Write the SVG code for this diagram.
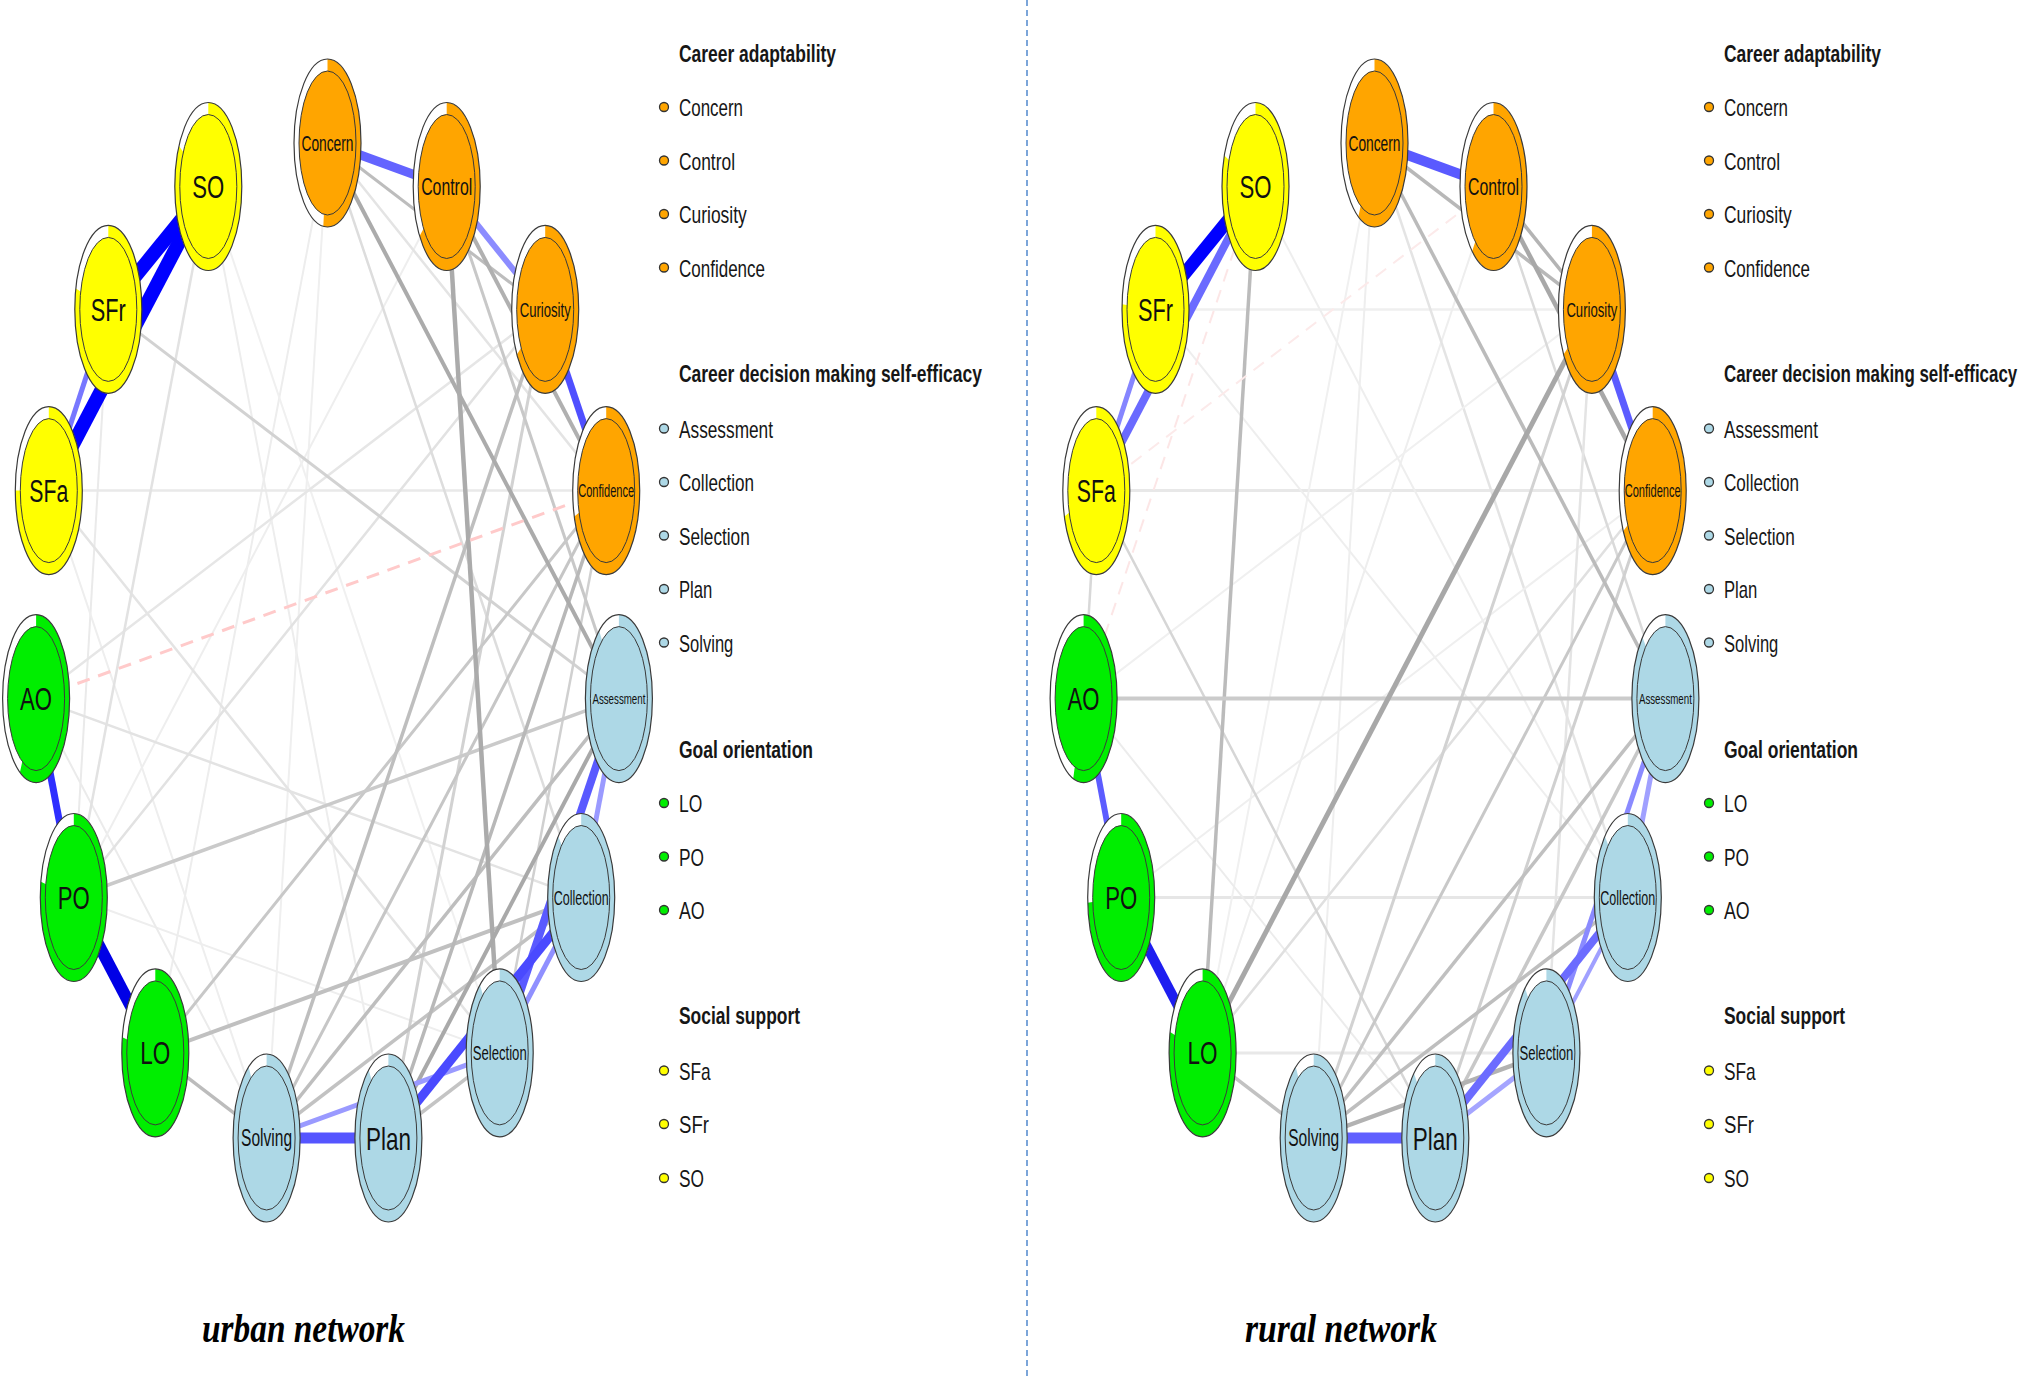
<svg xmlns="http://www.w3.org/2000/svg" width="2027" height="1380" viewBox="0 0 2027 1380">
<style>
.ring{fill:#fff;stroke:none}
.rim{fill:none;stroke:#3a3a3a;stroke-width:1.2}
.core{stroke:#3a3a3a;stroke-width:1}
.pie{stroke:none}
.yel .pie,.yel .core{fill:#FFFF00}
.org .pie,.org .core{fill:#FFA500}
.grn .pie,.grn .core{fill:#00EE00}
.blu .pie,.blu .core{fill:#ADD8E6}
.lbl{font-family:"Liberation Sans",Arial,sans-serif;text-anchor:middle;fill:#111}
.edges line{fill:none}
.dash{stroke-dasharray:13 9}
.leg{font-family:"Liberation Sans",Arial,sans-serif;font-size:24px;fill:#161616}
.legh{font-weight:bold}
.bo{fill:#FFA500;stroke:#333;stroke-width:1.3}
.bb{fill:#ADD8E6;stroke:#333;stroke-width:1.3}
.bg{fill:#00EE00;stroke:#333;stroke-width:1.3}
.by{fill:#FFFF00;stroke:#333;stroke-width:1.3}
.title{font-family:"Liberation Serif","Times New Roman",serif;font-style:italic;font-weight:bold;font-size:40px;fill:#000}
</style>
<rect width="2027" height="1380" fill="#fff"/>
<line x1="1027" y1="0" x2="1027" y2="1380" stroke="#5B8FD0" stroke-width="1.6" stroke-dasharray="6 4"/>

<!-- URBAN EDGES -->
<g id="urban-edges" class="edges">
<line x1="208.3" y1="186.5" x2="388.4" y2="1138" stroke="#EDEDED" stroke-width="2"/>
<line x1="108.3" y1="309.4" x2="73.8" y2="897.5" stroke="#EAEAEA" stroke-width="2"/>
<line x1="73.8" y1="897.5" x2="499.7" y2="1052.9" stroke="#EEEEEE" stroke-width="2"/>
<line x1="155.3" y1="1052.9" x2="327.5" y2="143" stroke="#EDEDED" stroke-width="2"/>
<line x1="327.5" y1="143" x2="266.6" y2="1138" stroke="#EFEFEF" stroke-width="2"/>
<line x1="36.1" y1="698.6" x2="266.6" y2="1138" stroke="#EBEBEB" stroke-width="2"/>
<line x1="48.8" y1="490.6" x2="266.6" y2="1138" stroke="#EEEEEE" stroke-width="2"/>
<line x1="446.7" y1="186.5" x2="73.8" y2="897.5" stroke="#EEEEEE" stroke-width="2"/>
<line x1="208.3" y1="186.5" x2="499.7" y2="1052.9" stroke="#F0F0F0" stroke-width="2"/>
<line x1="48.8" y1="490.6" x2="606.2" y2="490.6" stroke="#E9E9E9" stroke-width="2.5"/>
<line x1="48.8" y1="490.6" x2="499.7" y2="1052.9" stroke="#E4E4E4" stroke-width="2.5"/>
<line x1="545.2" y1="309.4" x2="36.1" y2="698.6" stroke="#E6E6E6" stroke-width="2.5"/>
<line x1="581.2" y1="897.5" x2="36.1" y2="698.6" stroke="#E3E3E3" stroke-width="2.5"/>
<line x1="545.2" y1="309.4" x2="73.8" y2="897.5" stroke="#E2E2E2" stroke-width="2.5"/>
<line x1="208.3" y1="186.5" x2="73.8" y2="897.5" stroke="#E2E2E2" stroke-width="2.5"/>
<line x1="327.5" y1="143" x2="581.2" y2="897.5" stroke="#DDDDDD" stroke-width="2.5"/>
<line x1="327.5" y1="143" x2="606.2" y2="490.6" stroke="#E4E4E4" stroke-width="2.5"/>
<line x1="108.3" y1="309.4" x2="618.9" y2="698.6" stroke="#D2D2D2" stroke-width="3"/>
<line x1="606.2" y1="490.6" x2="499.7" y2="1052.9" stroke="#D0D0D0" stroke-width="2.5"/>
<line x1="545.2" y1="309.4" x2="388.4" y2="1138" stroke="#D2D2D2" stroke-width="3"/>
<line x1="446.7" y1="186.5" x2="618.9" y2="698.6" stroke="#C8C8C8" stroke-width="3"/>
<line x1="606.2" y1="490.6" x2="155.3" y2="1052.9" stroke="#C8C8C8" stroke-width="3"/>
<line x1="606.2" y1="490.6" x2="266.6" y2="1138" stroke="#C6C6C6" stroke-width="3"/>
<line x1="618.9" y1="698.6" x2="73.8" y2="897.5" stroke="#CACACA" stroke-width="3.5"/>
<line x1="581.2" y1="897.5" x2="266.6" y2="1138" stroke="#C2C2C2" stroke-width="3.5"/>
<line x1="545.2" y1="309.4" x2="266.6" y2="1138" stroke="#BEBEBE" stroke-width="3.5"/>
<line x1="618.9" y1="698.6" x2="266.6" y2="1138" stroke="#BEBEBE" stroke-width="3.5"/>
<line x1="388.4" y1="1138" x2="499.7" y2="1052.9" stroke="#C4C4C4" stroke-width="3.5"/>
<line x1="155.3" y1="1052.9" x2="266.6" y2="1138" stroke="#BCBCBC" stroke-width="3.5"/>
<line x1="581.2" y1="897.5" x2="155.3" y2="1052.9" stroke="#C0C0C0" stroke-width="4"/>
<line x1="327.5" y1="143" x2="545.2" y2="309.4" stroke="#BDBDBD" stroke-width="3"/>
<line x1="606.2" y1="490.6" x2="388.4" y2="1138" stroke="#B8B8B8" stroke-width="3.5"/>
<line x1="327.5" y1="143" x2="618.9" y2="698.6" stroke="#ABABAB" stroke-width="4"/>
<line x1="446.7" y1="186.5" x2="499.7" y2="1052.9" stroke="#ABABAB" stroke-width="4.5"/>
<line x1="446.7" y1="186.5" x2="606.2" y2="490.6" stroke="#B0B0B0" stroke-width="4"/>
<line x1="618.9" y1="698.6" x2="388.4" y2="1138" stroke="#A9A9A9" stroke-width="4"/>
<line class="dash" x1="36.1" y1="698.6" x2="606.2" y2="490.6" stroke="#FFCACA" stroke-width="3"/>
<line x1="108.3" y1="309.4" x2="48.8" y2="490.6" stroke="#7777FF" stroke-width="5"/>
<line x1="208.3" y1="186.5" x2="108.3" y2="309.4" stroke="#0000FF" stroke-width="14"/>
<line x1="208.3" y1="186.5" x2="48.8" y2="490.6" stroke="#0000FF" stroke-width="14"/>
<line x1="327.5" y1="143" x2="446.7" y2="186.5" stroke="#6464FF" stroke-width="9"/>
<line x1="446.7" y1="186.5" x2="545.2" y2="309.4" stroke="#8C8CFF" stroke-width="6"/>
<line x1="545.2" y1="309.4" x2="606.2" y2="490.6" stroke="#4F4FFF" stroke-width="7"/>
<line x1="36.1" y1="698.6" x2="73.8" y2="897.5" stroke="#2E2EFF" stroke-width="7"/>
<line x1="73.8" y1="897.5" x2="155.3" y2="1052.9" stroke="#0000E6" stroke-width="12"/>
<line x1="266.6" y1="1138" x2="499.7" y2="1052.9" stroke="#9A9AFF" stroke-width="5"/>
<line x1="499.7" y1="1052.9" x2="581.2" y2="897.5" stroke="#9090FF" stroke-width="5"/>
<line x1="618.9" y1="698.6" x2="581.2" y2="897.5" stroke="#9A9AFF" stroke-width="5"/>
<line x1="499.7" y1="1052.9" x2="618.9" y2="698.6" stroke="#5A5AFF" stroke-width="8"/>
<line x1="388.4" y1="1138" x2="581.2" y2="897.5" stroke="#4A4AFF" stroke-width="9"/>
<line x1="266.6" y1="1138" x2="388.4" y2="1138" stroke="#5555FF" stroke-width="11"/>
</g>

<!-- RURAL EDGES -->
<g id="rural-edges" class="edges">
<line x1="1155.5" y1="309.4" x2="1591.9" y2="309.4" stroke="#EFEFEF" stroke-width="2.5"/>
<line x1="1096.3" y1="490.6" x2="1652.7" y2="490.6" stroke="#E8E8E8" stroke-width="3"/>
<line x1="1121.2" y1="897.5" x2="1627.8" y2="897.5" stroke="#E6E6E6" stroke-width="3"/>
<line x1="1202.6" y1="1052.9" x2="1546.4" y2="1052.9" stroke="#E8E8E8" stroke-width="3"/>
<line x1="1096.3" y1="490.6" x2="1083.6" y2="698.6" stroke="#D8D8D8" stroke-width="2.5"/>
<line x1="1374.5" y1="143" x2="1313.7" y2="1138" stroke="#EEEEEE" stroke-width="2"/>
<line x1="1374.5" y1="143" x2="1202.6" y2="1052.9" stroke="#F0F0F0" stroke-width="2"/>
<line x1="1493.5" y1="186.5" x2="1202.6" y2="1052.9" stroke="#EEEEEE" stroke-width="2"/>
<line x1="1374.5" y1="143" x2="1627.8" y2="897.5" stroke="#E4E4E4" stroke-width="2.5"/>
<line x1="1255.5" y1="186.5" x2="1627.8" y2="897.5" stroke="#EEEEEE" stroke-width="2"/>
<line x1="1155.5" y1="309.4" x2="1627.8" y2="897.5" stroke="#EEEEEE" stroke-width="2"/>
<line x1="1083.6" y1="698.6" x2="1435.3" y2="1138" stroke="#ECECEC" stroke-width="2"/>
<line x1="1121.2" y1="897.5" x2="1652.7" y2="490.6" stroke="#EFEFEF" stroke-width="2"/>
<line x1="1083.6" y1="698.6" x2="1591.9" y2="309.4" stroke="#F0F0F0" stroke-width="2"/>
<line x1="1652.7" y1="490.6" x2="1202.6" y2="1052.9" stroke="#E0E0E0" stroke-width="2.5"/>
<line x1="1493.5" y1="186.5" x2="1665.4" y2="698.6" stroke="#DADADA" stroke-width="2.5"/>
<line x1="1591.9" y1="309.4" x2="1546.4" y2="1052.9" stroke="#E4E4E4" stroke-width="2.5"/>
<line x1="1096.3" y1="490.6" x2="1435.3" y2="1138" stroke="#D6D6D6" stroke-width="2.5"/>
<line x1="1652.7" y1="490.6" x2="1435.3" y2="1138" stroke="#D0D0D0" stroke-width="3"/>
<line x1="1652.7" y1="490.6" x2="1313.7" y2="1138" stroke="#C8C8C8" stroke-width="3"/>
<line x1="1591.9" y1="309.4" x2="1313.7" y2="1138" stroke="#D2D2D2" stroke-width="3"/>
<line x1="1665.4" y1="698.6" x2="1435.3" y2="1138" stroke="#C8C8C8" stroke-width="3.5"/>
<line x1="1665.4" y1="698.6" x2="1313.7" y2="1138" stroke="#C0C0C0" stroke-width="3.5"/>
<line x1="1627.8" y1="897.5" x2="1313.7" y2="1138" stroke="#BEBEBE" stroke-width="3.5"/>
<line x1="1202.6" y1="1052.9" x2="1313.7" y2="1138" stroke="#C2C2C2" stroke-width="3.5"/>
<line x1="1374.5" y1="143" x2="1665.4" y2="698.6" stroke="#BBBBBB" stroke-width="3.5"/>
<line x1="1374.5" y1="143" x2="1591.9" y2="309.4" stroke="#B8B8B8" stroke-width="3.5"/>
<line x1="1493.5" y1="186.5" x2="1591.9" y2="309.4" stroke="#B4B4B4" stroke-width="3.5"/>
<line x1="1255.5" y1="186.5" x2="1202.6" y2="1052.9" stroke="#BBBBBB" stroke-width="3.5"/>
<line x1="1083.6" y1="698.6" x2="1665.4" y2="698.6" stroke="#CBCBCB" stroke-width="4"/>
<line x1="1493.5" y1="186.5" x2="1652.7" y2="490.6" stroke="#A8A8A8" stroke-width="4.5"/>
<line x1="1546.4" y1="1052.9" x2="1313.7" y2="1138" stroke="#B2B2B2" stroke-width="4.5"/>
<line x1="1202.6" y1="1052.9" x2="1591.9" y2="309.4" stroke="#A8A8A8" stroke-width="5"/>
<line class="dash" x1="1083.6" y1="698.6" x2="1255.5" y2="186.5" stroke="#FCE6E6" stroke-width="2"/>
<line class="dash" x1="1096.3" y1="490.6" x2="1493.5" y2="186.5" stroke="#FCEAEA" stroke-width="2"/>
<line x1="1155.5" y1="309.4" x2="1096.3" y2="490.6" stroke="#8585FF" stroke-width="5"/>
<line x1="1255.5" y1="186.5" x2="1096.3" y2="490.6" stroke="#6A6AFF" stroke-width="8"/>
<line x1="1255.5" y1="186.5" x2="1155.5" y2="309.4" stroke="#0000FF" stroke-width="13"/>
<line x1="1374.5" y1="143" x2="1493.5" y2="186.5" stroke="#5A5AFF" stroke-width="10"/>
<line x1="1591.9" y1="309.4" x2="1652.7" y2="490.6" stroke="#5C5CFF" stroke-width="7"/>
<line x1="1083.6" y1="698.6" x2="1121.2" y2="897.5" stroke="#5C5CFF" stroke-width="6"/>
<line x1="1121.2" y1="897.5" x2="1202.6" y2="1052.9" stroke="#1E1EF0" stroke-width="10"/>
<line x1="1435.3" y1="1138" x2="1546.4" y2="1052.9" stroke="#A5A5FF" stroke-width="5"/>
<line x1="1546.4" y1="1052.9" x2="1627.8" y2="897.5" stroke="#A0A0FF" stroke-width="4"/>
<line x1="1665.4" y1="698.6" x2="1627.8" y2="897.5" stroke="#A0A0FF" stroke-width="5"/>
<line x1="1546.4" y1="1052.9" x2="1665.4" y2="698.6" stroke="#8A8AFF" stroke-width="5"/>
<line x1="1435.3" y1="1138" x2="1627.8" y2="897.5" stroke="#6C6CFF" stroke-width="8"/>
<line x1="1313.7" y1="1138" x2="1435.3" y2="1138" stroke="#6060FF" stroke-width="11"/>
</g>

<!-- URBAN NODES -->
<g id="u-Concern" class="org" transform="translate(327.5,143)"><ellipse class="ring" rx="33.5" ry="84"/><path class="pie" d="M0,0L0,-84A33.5,84 0 1 1 -4.2,83.34Z"/><ellipse class="core" rx="28.5" ry="72"/><ellipse class="rim" rx="33.5" ry="84"/><text class="lbl" y="7.9" font-size="22" textLength="52" lengthAdjust="spacingAndGlyphs">Concern</text></g>
<g id="u-Control" class="org" transform="translate(446.7,186.5)"><ellipse class="ring" rx="33.5" ry="84"/><path class="pie" d="M0,0L0,-84A33.5,84 0 1 1 -27.1,49.38Z"/><ellipse class="core" rx="28.5" ry="72"/><ellipse class="rim" rx="33.5" ry="84"/><text class="lbl" y="8.6" font-size="24" textLength="51" lengthAdjust="spacingAndGlyphs">Control</text></g>
<g id="u-Curiosity" class="org" transform="translate(545.2,309.4)"><ellipse class="ring" rx="33.5" ry="84"/><path class="pie" d="M0,0L0,-84A33.5,84 0 1 1 -28.28,45Z"/><ellipse class="core" rx="28.5" ry="72"/><ellipse class="rim" rx="33.5" ry="84"/><text class="lbl" y="7.6" font-size="21" textLength="51" lengthAdjust="spacingAndGlyphs">Curiosity</text></g>
<g id="u-Confidence" class="org" transform="translate(606.2,490.6)"><ellipse class="ring" rx="33.5" ry="84"/><path class="pie" d="M0,0L0,-84A33.5,84 0 1 1 -31.86,25.96Z"/><ellipse class="core" rx="28.5" ry="72"/><ellipse class="rim" rx="33.5" ry="84"/><text class="lbl" y="6.8" font-size="19" textLength="56" lengthAdjust="spacingAndGlyphs">Confidence</text></g>
<g id="u-Assessment" class="blu" transform="translate(618.9,698.6)"><ellipse class="ring" rx="33.5" ry="84"/><path class="pie" d="M0,0L0,-84A33.5,84 0 1 1 -19.69,-67.96Z"/><ellipse class="core" rx="28.5" ry="72"/><ellipse class="rim" rx="33.5" ry="84"/><text class="lbl" y="5.4" font-size="15" textLength="53" lengthAdjust="spacingAndGlyphs">Assessment</text></g>
<g id="u-Collection" class="blu" transform="translate(581.2,897.5)"><ellipse class="ring" rx="33.5" ry="84"/><path class="pie" d="M0,0L0,-84A33.5,84 0 1 1 -22.93,-61.24Z"/><ellipse class="core" rx="28.5" ry="72"/><ellipse class="rim" rx="33.5" ry="84"/><text class="lbl" y="7.2" font-size="20" textLength="55" lengthAdjust="spacingAndGlyphs">Collection</text></g>
<g id="u-Selection" class="blu" transform="translate(499.7,1052.9)"><ellipse class="ring" rx="33.5" ry="84"/><path class="pie" d="M0,0L0,-84A33.5,84 0 1 1 -19.69,-67.96Z"/><ellipse class="core" rx="28.5" ry="72"/><ellipse class="rim" rx="33.5" ry="84"/><text class="lbl" y="7.2" font-size="20" textLength="54" lengthAdjust="spacingAndGlyphs">Selection</text></g>
<g id="u-Plan" class="blu" transform="translate(388.4,1138)"><ellipse class="ring" rx="33.5" ry="84"/><path class="pie" d="M0,0L0,-84A33.5,84 0 1 1 -19.69,-67.96Z"/><ellipse class="core" rx="28.5" ry="72"/><ellipse class="rim" rx="33.5" ry="84"/><text class="lbl" y="11.5" font-size="32" textLength="45" lengthAdjust="spacingAndGlyphs">Plan</text></g>
<g id="u-Solving" class="blu" transform="translate(266.6,1138)"><ellipse class="ring" rx="33.5" ry="84"/><path class="pie" d="M0,0L0,-84A33.5,84 0 1 1 -17.95,-70.92Z"/><ellipse class="core" rx="28.5" ry="72"/><ellipse class="rim" rx="33.5" ry="84"/><text class="lbl" y="8.3" font-size="23" textLength="51" lengthAdjust="spacingAndGlyphs">Solving</text></g>
<g id="u-LO" class="grn" transform="translate(155.3,1052.9)"><ellipse class="ring" rx="33.5" ry="84"/><path class="pie" d="M0,0L0,-84A33.5,84 0 1 1 -32.91,-15.74Z"/><ellipse class="core" rx="28.5" ry="72"/><ellipse class="rim" rx="33.5" ry="84"/><text class="lbl" y="11.2" font-size="31" textLength="30" lengthAdjust="spacingAndGlyphs">LO</text></g>
<g id="u-PO" class="grn" transform="translate(73.8,897.5)"><ellipse class="ring" rx="33.5" ry="84"/><path class="pie" d="M0,0L0,-84A33.5,84 0 1 1 -32.91,-15.74Z"/><ellipse class="core" rx="28.5" ry="72"/><ellipse class="rim" rx="33.5" ry="84"/><text class="lbl" y="11.2" font-size="31" textLength="32" lengthAdjust="spacingAndGlyphs">PO</text></g>
<g id="u-AO" class="grn" transform="translate(36.1,698.6)"><ellipse class="ring" rx="33.5" ry="84"/><path class="pie" d="M0,0L0,-84A33.5,84 0 1 1 -16.14,73.61Z"/><ellipse class="core" rx="28.5" ry="72"/><ellipse class="rim" rx="33.5" ry="84"/><text class="lbl" y="11.2" font-size="31" textLength="32" lengthAdjust="spacingAndGlyphs">AO</text></g>
<g id="u-SFa" class="yel" transform="translate(48.8,490.6)"><ellipse class="ring" rx="33.5" ry="84"/><path class="pie" d="M0,0L0,-84A33.5,84 0 1 1 -33.5,0Z"/><ellipse class="core" rx="28.5" ry="72"/><ellipse class="rim" rx="33.5" ry="84"/><text class="lbl" y="11.2" font-size="31" textLength="39" lengthAdjust="spacingAndGlyphs">SFa</text></g>
<g id="u-SFr" class="yel" transform="translate(108.3,309.4)"><ellipse class="ring" rx="33.5" ry="84"/><path class="pie" d="M0,0L0,-84A33.5,84 0 1 1 -32.45,-20.89Z"/><ellipse class="core" rx="28.5" ry="72"/><ellipse class="rim" rx="33.5" ry="84"/><text class="lbl" y="11.2" font-size="31" textLength="35" lengthAdjust="spacingAndGlyphs">SFr</text></g>
<g id="u-SO" class="yel" transform="translate(208.3,186.5)"><ellipse class="ring" rx="33.5" ry="84"/><path class="pie" d="M0,0L0,-84A33.5,84 0 1 1 -29.36,-40.47Z"/><ellipse class="core" rx="28.5" ry="72"/><ellipse class="rim" rx="33.5" ry="84"/><text class="lbl" y="11.2" font-size="31" textLength="32" lengthAdjust="spacingAndGlyphs">SO</text></g>

<!-- RURAL NODES -->
<g id="r-Concern" class="org" transform="translate(1374.5,143)"><ellipse class="ring" rx="33.5" ry="84"/><path class="pie" d="M0,0L0,-84A33.5,84 0 1 1 -16.14,73.61Z"/><ellipse class="core" rx="28.5" ry="72"/><ellipse class="rim" rx="33.5" ry="84"/><text class="lbl" y="7.9" font-size="22" textLength="52" lengthAdjust="spacingAndGlyphs">Concern</text></g>
<g id="r-Control" class="org" transform="translate(1493.5,186.5)"><ellipse class="ring" rx="33.5" ry="84"/><path class="pie" d="M0,0L0,-84A33.5,84 0 1 1 -21.35,64.72Z"/><ellipse class="core" rx="28.5" ry="72"/><ellipse class="rim" rx="33.5" ry="84"/><text class="lbl" y="8.6" font-size="24" textLength="51" lengthAdjust="spacingAndGlyphs">Control</text></g>
<g id="r-Curiosity" class="org" transform="translate(1591.9,309.4)"><ellipse class="ring" rx="33.5" ry="84"/><path class="pie" d="M0,0L0,-84A33.5,84 0 1 1 -28.28,45Z"/><ellipse class="core" rx="28.5" ry="72"/><ellipse class="rim" rx="33.5" ry="84"/><text class="lbl" y="7.6" font-size="21" textLength="51" lengthAdjust="spacingAndGlyphs">Curiosity</text></g>
<g id="r-Confidence" class="org" transform="translate(1652.7,490.6)"><ellipse class="ring" rx="33.5" ry="84"/><path class="pie" d="M0,0L0,-84A33.5,84 0 1 1 -29.36,40.47Z"/><ellipse class="core" rx="28.5" ry="72"/><ellipse class="rim" rx="33.5" ry="84"/><text class="lbl" y="6.8" font-size="19" textLength="56" lengthAdjust="spacingAndGlyphs">Confidence</text></g>
<g id="r-Assessment" class="blu" transform="translate(1665.4,698.6)"><ellipse class="ring" rx="33.5" ry="84"/><path class="pie" d="M0,0L0,-84A33.5,84 0 1 1 -22.93,-61.24Z"/><ellipse class="core" rx="28.5" ry="72"/><ellipse class="rim" rx="33.5" ry="84"/><text class="lbl" y="5.4" font-size="15" textLength="53" lengthAdjust="spacingAndGlyphs">Assessment</text></g>
<g id="r-Collection" class="blu" transform="translate(1627.8,897.5)"><ellipse class="ring" rx="33.5" ry="84"/><path class="pie" d="M0,0L0,-84A33.5,84 0 1 1 -22.93,-61.24Z"/><ellipse class="core" rx="28.5" ry="72"/><ellipse class="rim" rx="33.5" ry="84"/><text class="lbl" y="7.2" font-size="20" textLength="55" lengthAdjust="spacingAndGlyphs">Collection</text></g>
<g id="r-Selection" class="blu" transform="translate(1546.4,1052.9)"><ellipse class="ring" rx="33.5" ry="84"/><path class="pie" d="M0,0L0,-84A33.5,84 0 1 1 -21.35,-64.72Z"/><ellipse class="core" rx="28.5" ry="72"/><ellipse class="rim" rx="33.5" ry="84"/><text class="lbl" y="7.2" font-size="20" textLength="54" lengthAdjust="spacingAndGlyphs">Selection</text></g>
<g id="r-Plan" class="blu" transform="translate(1435.3,1138)"><ellipse class="ring" rx="33.5" ry="84"/><path class="pie" d="M0,0L0,-84A33.5,84 0 1 1 -21.35,-64.72Z"/><ellipse class="core" rx="28.5" ry="72"/><ellipse class="rim" rx="33.5" ry="84"/><text class="lbl" y="11.5" font-size="32" textLength="45" lengthAdjust="spacingAndGlyphs">Plan</text></g>
<g id="r-Solving" class="blu" transform="translate(1313.7,1138)"><ellipse class="ring" rx="33.5" ry="84"/><path class="pie" d="M0,0L0,-84A33.5,84 0 1 1 -17.95,-70.92Z"/><ellipse class="core" rx="28.5" ry="72"/><ellipse class="rim" rx="33.5" ry="84"/><text class="lbl" y="8.3" font-size="23" textLength="51" lengthAdjust="spacingAndGlyphs">Solving</text></g>
<g id="r-LO" class="grn" transform="translate(1202.6,1052.9)"><ellipse class="ring" rx="33.5" ry="84"/><path class="pie" d="M0,0L0,-84A33.5,84 0 1 1 -32.45,-20.89Z"/><ellipse class="core" rx="28.5" ry="72"/><ellipse class="rim" rx="33.5" ry="84"/><text class="lbl" y="11.2" font-size="31" textLength="30" lengthAdjust="spacingAndGlyphs">LO</text></g>
<g id="r-PO" class="grn" transform="translate(1121.2,897.5)"><ellipse class="ring" rx="33.5" ry="84"/><path class="pie" d="M0,0L0,-84A33.5,84 0 1 1 -33.43,5.27Z"/><ellipse class="core" rx="28.5" ry="72"/><ellipse class="rim" rx="33.5" ry="84"/><text class="lbl" y="11.2" font-size="31" textLength="32" lengthAdjust="spacingAndGlyphs">PO</text></g>
<g id="r-AO" class="grn" transform="translate(1083.6,698.6)"><ellipse class="ring" rx="33.5" ry="84"/><path class="pie" d="M0,0L0,-84A33.5,84 0 1 1 -10.35,79.89Z"/><ellipse class="core" rx="28.5" ry="72"/><ellipse class="rim" rx="33.5" ry="84"/><text class="lbl" y="11.2" font-size="31" textLength="32" lengthAdjust="spacingAndGlyphs">AO</text></g>
<g id="r-SFa" class="yel" transform="translate(1096.3,490.6)"><ellipse class="ring" rx="33.5" ry="84"/><path class="pie" d="M0,0L0,-84A33.5,84 0 1 1 -31.86,25.96Z"/><ellipse class="core" rx="28.5" ry="72"/><ellipse class="rim" rx="33.5" ry="84"/><text class="lbl" y="11.2" font-size="31" textLength="39" lengthAdjust="spacingAndGlyphs">SFa</text></g>
<g id="r-SFr" class="yel" transform="translate(1155.5,309.4)"><ellipse class="ring" rx="33.5" ry="84"/><path class="pie" d="M0,0L0,-84A33.5,84 0 1 1 -33.43,-5.27Z"/><ellipse class="core" rx="28.5" ry="72"/><ellipse class="rim" rx="33.5" ry="84"/><text class="lbl" y="11.2" font-size="31" textLength="35" lengthAdjust="spacingAndGlyphs">SFr</text></g>
<g id="r-SO" class="yel" transform="translate(1255.5,186.5)"><ellipse class="ring" rx="33.5" ry="84"/><path class="pie" d="M0,0L0,-84A33.5,84 0 1 1 -31.15,-30.92Z"/><ellipse class="core" rx="28.5" ry="72"/><ellipse class="rim" rx="33.5" ry="84"/><text class="lbl" y="11.2" font-size="31" textLength="32" lengthAdjust="spacingAndGlyphs">SO</text></g>

<!-- URBAN LEGEND -->
<g id="u-legend" class="leg">
<text class="legh" x="679" y="62" textLength="157" lengthAdjust="spacingAndGlyphs">Career adaptability</text>
<circle class="bo" cx="664" cy="107" r="4.5"/><text x="679" y="116" textLength="64" lengthAdjust="spacingAndGlyphs">Concern</text>
<circle class="bo" cx="664" cy="160.5" r="4.5"/><text x="679" y="169.5" textLength="56" lengthAdjust="spacingAndGlyphs">Control</text>
<circle class="bo" cx="664" cy="214" r="4.5"/><text x="679" y="223" textLength="67.7" lengthAdjust="spacingAndGlyphs">Curiosity</text>
<circle class="bo" cx="664" cy="267.5" r="4.5"/><text x="679" y="276.5" textLength="86" lengthAdjust="spacingAndGlyphs">Confidence</text>
<text class="legh" transform="translate(679,382) scale(0.728,1)">Career decision making self-efficacy</text>
<circle class="bb" cx="664" cy="428.5" r="4.5"/><text x="679" y="437.5" textLength="94" lengthAdjust="spacingAndGlyphs">Assessment</text>
<circle class="bb" cx="664" cy="482" r="4.5"/><text x="679" y="491" textLength="75" lengthAdjust="spacingAndGlyphs">Collection</text>
<circle class="bb" cx="664" cy="535.5" r="4.5"/><text x="679" y="544.5" textLength="70.7" lengthAdjust="spacingAndGlyphs">Selection</text>
<circle class="bb" cx="664" cy="589" r="4.5"/><text x="679" y="598" textLength="33.3" lengthAdjust="spacingAndGlyphs">Plan</text>
<circle class="bb" cx="664" cy="642.5" r="4.5"/><text x="679" y="651.5" textLength="54.3" lengthAdjust="spacingAndGlyphs">Solving</text>
<text class="legh" x="679" y="758" textLength="134" lengthAdjust="spacingAndGlyphs">Goal orientation</text>
<circle class="bg" cx="664" cy="803" r="4.5"/><text x="679" y="812" textLength="23.3" lengthAdjust="spacingAndGlyphs">LO</text>
<circle class="bg" cx="664" cy="856.5" r="4.5"/><text x="679" y="865.5" textLength="25" lengthAdjust="spacingAndGlyphs">PO</text>
<circle class="bg" cx="664" cy="910" r="4.5"/><text x="679" y="919" textLength="25.7" lengthAdjust="spacingAndGlyphs">AO</text>
<text class="legh" x="679" y="1024" textLength="121" lengthAdjust="spacingAndGlyphs">Social support</text>
<circle class="by" cx="664" cy="1070.5" r="4.5"/><text x="679" y="1079.5" textLength="31.7" lengthAdjust="spacingAndGlyphs">SFa</text>
<circle class="by" cx="664" cy="1124" r="4.5"/><text x="679" y="1133" textLength="30" lengthAdjust="spacingAndGlyphs">SFr</text>
<circle class="by" cx="664" cy="1178" r="4.5"/><text x="679" y="1187" textLength="25" lengthAdjust="spacingAndGlyphs">SO</text>
</g>

<!-- RURAL LEGEND -->
<g id="r-legend" class="leg">
<text class="legh" x="1724" y="62" textLength="157" lengthAdjust="spacingAndGlyphs">Career adaptability</text>
<circle class="bo" cx="1709" cy="107" r="4.5"/><text x="1724" y="116" textLength="64" lengthAdjust="spacingAndGlyphs">Concern</text>
<circle class="bo" cx="1709" cy="160.5" r="4.5"/><text x="1724" y="169.5" textLength="56" lengthAdjust="spacingAndGlyphs">Control</text>
<circle class="bo" cx="1709" cy="214" r="4.5"/><text x="1724" y="223" textLength="67.7" lengthAdjust="spacingAndGlyphs">Curiosity</text>
<circle class="bo" cx="1709" cy="267.5" r="4.5"/><text x="1724" y="276.5" textLength="86" lengthAdjust="spacingAndGlyphs">Confidence</text>
<text class="legh" transform="translate(1724,382) scale(0.705,1)">Career decision making self-efficacy</text>
<circle class="bb" cx="1709" cy="428.5" r="4.5"/><text x="1724" y="437.5" textLength="94" lengthAdjust="spacingAndGlyphs">Assessment</text>
<circle class="bb" cx="1709" cy="482" r="4.5"/><text x="1724" y="491" textLength="75" lengthAdjust="spacingAndGlyphs">Collection</text>
<circle class="bb" cx="1709" cy="535.5" r="4.5"/><text x="1724" y="544.5" textLength="70.7" lengthAdjust="spacingAndGlyphs">Selection</text>
<circle class="bb" cx="1709" cy="589" r="4.5"/><text x="1724" y="598" textLength="33.3" lengthAdjust="spacingAndGlyphs">Plan</text>
<circle class="bb" cx="1709" cy="642.5" r="4.5"/><text x="1724" y="651.5" textLength="54.3" lengthAdjust="spacingAndGlyphs">Solving</text>
<text class="legh" x="1724" y="758" textLength="134" lengthAdjust="spacingAndGlyphs">Goal orientation</text>
<circle class="bg" cx="1709" cy="803" r="4.5"/><text x="1724" y="812" textLength="23.3" lengthAdjust="spacingAndGlyphs">LO</text>
<circle class="bg" cx="1709" cy="856.5" r="4.5"/><text x="1724" y="865.5" textLength="25" lengthAdjust="spacingAndGlyphs">PO</text>
<circle class="bg" cx="1709" cy="910" r="4.5"/><text x="1724" y="919" textLength="25.7" lengthAdjust="spacingAndGlyphs">AO</text>
<text class="legh" x="1724" y="1024" textLength="121" lengthAdjust="spacingAndGlyphs">Social support</text>
<circle class="by" cx="1709" cy="1070.5" r="4.5"/><text x="1724" y="1079.5" textLength="31.7" lengthAdjust="spacingAndGlyphs">SFa</text>
<circle class="by" cx="1709" cy="1124" r="4.5"/><text x="1724" y="1133" textLength="30" lengthAdjust="spacingAndGlyphs">SFr</text>
<circle class="by" cx="1709" cy="1178" r="4.5"/><text x="1724" y="1187" textLength="25" lengthAdjust="spacingAndGlyphs">SO</text>
</g>

<text class="title" x="202" y="1342" textLength="203" lengthAdjust="spacingAndGlyphs">urban network</text>
<text class="title" x="1245" y="1342" textLength="192" lengthAdjust="spacingAndGlyphs">rural network</text>
</svg>
